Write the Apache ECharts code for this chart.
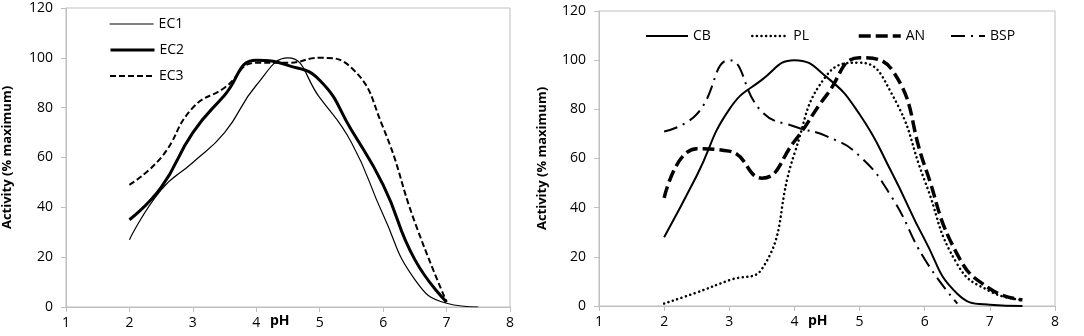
<!DOCTYPE html>
<html><head><meta charset="utf-8">
<script src="https://cdn.jsdelivr.net/npm/echarts@6/dist/echarts.min.js"></script>
<style>html,body{margin:0;padding:0;background:#fff}#c{width:1084px;height:336px}</style>
</head><body><div id="c"></div>
<script>
// pH values (x) shared by both panels
const pH = [2, 2.5, 3, 3.5, 4, 4.5, 5, 5.5, 6, 6.5, 7, 7.5];
// Left panel
const EC1 = [27, 47, 58, 70, 89, 100, 84, 66, 37, 11, 1.5, 0];
const EC2 = [35, 48, 70, 85, 99, 97, 91, 71, 49, 19, 2, null];
const EC3 = [49, 60, 80, 88, 98, 98, 100, 96, 72, 34, 2, null];
// Right panel
const CB  = [28, 53, 80, 92, 100, 93, 78, 54, 27, 5, 0.5, 0];
const PL  = [1, 5.5, 10.5, 15, 62, 94, 99, 86, 51, 17, 6, 2.5];
const AN  = [44, 64, 63, 52, 67, 86, 101, 96, 57, 21, 7, 2.5];
const BSP = [71, 78, 100, 79, 73, 69, 61, 44, 19, 1, null, null];
const xTicks = [1, 2, 3, 4, 5, 6, 7, 8];
const yTicks = [0, 20, 40, 60, 80, 100, 120];

const FONT = 'Open Sans';
const axisGray = '#BFBFBF';
function pts(ys){ return pH.map((x,i)=> ys[i]==null ? null : [x, ys[i]]).filter(p=>p); }

function xAxis(idx){
  return {type:'value', gridIndex:idx, min:xTicks[0], max:xTicks[xTicks.length-1], interval:1,
    axisLine:{show:true,lineStyle:{color:axisGray,width:1}},
    axisTick:{show:true,length:5,lineStyle:{color:axisGray}},
    splitLine:{show:false},
    axisLabel:{color:'#000',fontFamily:FONT,fontSize:14,margin:9}};
}
function yAxis(idx){
  return {type:'value', gridIndex:idx, min:yTicks[0], max:yTicks[yTicks.length-1], interval:20,
    name:'Activity (% maximum)', nameLocation:'middle', nameGap: idx===0?52:50, nameRotate:90,
    nameTextStyle:{color:'#000',fontFamily:FONT,fontSize:13,fontWeight:'bold'},
    axisLine:{show:true,lineStyle:{color:axisGray,width:1}},
    axisTick:{show:true,length:5,lineStyle:{color:axisGray}},
    splitLine:{show:false},
    axisLabel:{color:'#000',fontFamily:FONT,fontSize:14,margin:13}};
}
const styles = {
  EC1:{width:1.2, type:'solid'}, EC2:{width:3, type:'solid'}, EC3:{width:2, type:[6,3]},
  CB:{width:2, type:'solid'}, PL:{width:2.5, type:[0.1,4.5], cap:'round'},
  AN:{width:3.5, type:[12,5]}, BSP:{width:2, type:[14,6,2,6]}
};
function line(name, data, idx){
  const s = styles[name];
  return {name, type:'line', xAxisIndex:idx, yAxisIndex:idx, data:pts(data), smooth:0.5,
    symbol:'none', showSymbol:false, silent:true, animation:false,
    itemStyle:{color:'#000'},
    lineStyle:{color:'#000', width:s.width, type:s.type, cap:s.cap||'butt'}};
}
const legTxt = {color:'#000',fontFamily:FONT,fontSize:14};
function leg(name, left, top, w){
  const s = styles[name];
  return {left, top, itemWidth:w, itemHeight:14, textStyle:legTxt, data:[name], selectedMode:false,
    itemStyle:{opacity:0},
    lineStyle:{color:'#000', width:s.width, type:s.type, cap:s.cap||'butt', opacity:1}};
}

const chart = echarts.init(document.getElementById('c'), null, {renderer:'canvas'});
chart.setOption({
  animation:false,
  backgroundColor:'#fff',
  grid:[
    {left:62, top:8, width:448, height:299, show:true, borderColor:axisGray, borderWidth:1},
    {left:599, top:11, width:456, height:295, show:true, borderColor:axisGray, borderWidth:1}
  ],
  xAxis:[xAxis(0), xAxis(1)],
  yAxis:[yAxis(0), yAxis(1)],
  legend:[
    leg('EC1', 104, 12, 44), leg('EC2', 104, 38, 44), leg('EC3', 104, 64, 44),
    leg('CB', 640, 24, 42), leg('PL', 746, 24, 36), leg('AN', 852, 24, 42), leg('BSP', 945, 24, 34)
  ],
  graphic:[
    {type:'text', left:270, top:314, style:{text:'pH', fill:'#000', font:'bold 14px "Open Sans"'}},
    {type:'text', left:808, top:314, style:{text:'pH', fill:'#000', font:'bold 14px "Open Sans"'}}
  ],
  series:[
    line('EC1', EC1, 0), line('EC2', EC2, 0), line('EC3', EC3, 0),
    line('CB', CB, 1), line('PL', PL, 1), line('AN', AN, 1), line('BSP', BSP, 1)
  ]
});
</script></body></html>
